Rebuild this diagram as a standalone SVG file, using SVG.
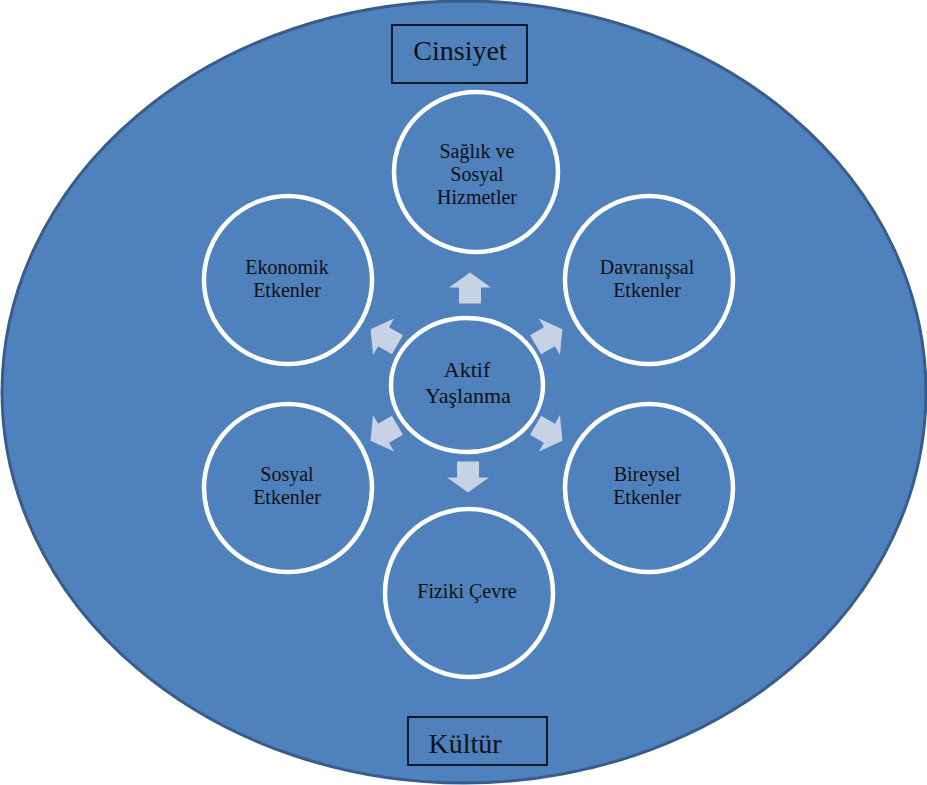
<svg xmlns="http://www.w3.org/2000/svg" width="927" height="785" viewBox="0 0 927 785">
<style>
.bg{fill:#4f81bd;stroke:#385d8a;stroke-width:3}
.node{fill:#4f81bd;stroke:#ffffff;stroke-width:4.5}
.box{fill:none;stroke:#000000;stroke-width:1.6}
.lbl{font-family:"Liberation Serif","Times New Roman",serif;font-size:20px;fill:#111111;text-anchor:middle}
.big{font-family:"Liberation Serif","Times New Roman",serif;font-size:28px;fill:#111111;text-anchor:middle}
.arr{fill:#c7d2e5}
</style>
<defs>
<path id="arrow" d="M-15.5,-11 L0.5,-11 L0.5,-21 L15.5,0 L0.5,21 L0.5,11 L-15.5,11 Z"/>
</defs>
<rect width="927" height="785" fill="#ffffff"/>
<g id="outer">
<ellipse class="bg" cx="464" cy="392" rx="462" ry="391"/>
</g>
<g id="cinsiyet">
<rect class="box" x="392" y="25" width="135" height="58"/>
<text class="big" x="460" y="60">Cinsiyet</text>
</g>
<g id="kultur">
<rect class="box" x="408" y="717" width="139" height="48"/>
<text class="big" x="465" y="753">Kültür</text>
</g>
<g id="connectors">
<use href="#arrow" class="arr" transform="translate(470,288) rotate(-90)"/>
<use href="#arrow" class="arr" transform="translate(549,337) rotate(-30)"/>
<use href="#arrow" class="arr" transform="translate(549,433) rotate(30)"/>
<use href="#arrow" class="arr" transform="translate(468,477) rotate(90)"/>
<use href="#arrow" class="arr" transform="translate(384,433) rotate(150)"/>
<use href="#arrow" class="arr" transform="translate(384,337) rotate(210)"/>
</g>
<g id="aktif">
<ellipse class="node" cx="467" cy="385" rx="76" ry="67"/>
<text class="lbl" style="font-size:22px" x="467" y="377">Aktif</text>
<text class="lbl" style="font-size:22px" x="468" y="403">Yaşlanma</text>
</g>
<g id="saglik">
<ellipse class="node" cx="476" cy="172" rx="82" ry="80"/>
<text class="lbl" x="477" y="158">Sağlık ve</text>
<text class="lbl" x="477" y="181">Sosyal</text>
<text class="lbl" x="477" y="204">Hizmetler</text>
</g>
<g id="davranissal">
<circle class="node" cx="649" cy="280" r="84"/>
<text class="lbl" x="647" y="274">Davranışsal</text>
<text class="lbl" x="647" y="297">Etkenler</text>
</g>
<g id="bireysel">
<circle class="node" cx="649" cy="488" r="84"/>
<text class="lbl" x="647" y="481">Bireysel</text>
<text class="lbl" x="647" y="504">Etkenler</text>
</g>
<g id="fiziki">
<circle class="node" cx="469" cy="593" r="84"/>
<text class="lbl" x="467" y="598">Fiziki Çevre</text>
</g>
<g id="sosyal">
<circle class="node" cx="288" cy="488" r="84"/>
<text class="lbl" x="287" y="481">Sosyal</text>
<text class="lbl" x="287" y="504">Etkenler</text>
</g>
<g id="ekonomik">
<circle class="node" cx="288" cy="280" r="84"/>
<text class="lbl" x="287" y="274">Ekonomik</text>
<text class="lbl" x="287" y="297">Etkenler</text>
</g>
</svg>
